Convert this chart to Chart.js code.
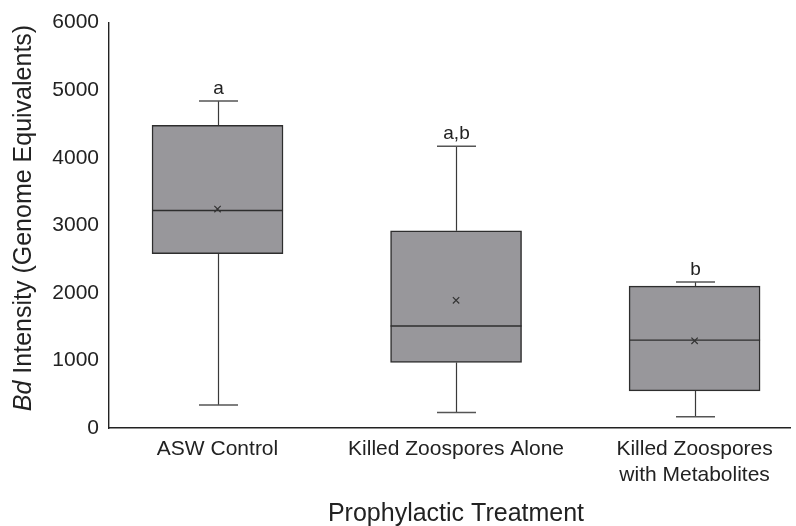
<!DOCTYPE html>
<html>
<head>
<meta charset="utf-8">
<script src="https://cdn.jsdelivr.net/npm/chart.js@4.4.1/dist/chart.umd.min.js"></script>
<style>
  body { margin: 0; background: #fff; }
  #wrap { width: 796px; height: 526px; }
</style>
</head>
<body>
<div id="wrap"><canvas id="myChart" width="796" height="526"></canvas></div>
<script>
// categorias e valores
const categories = ['ASW Control', 'Killed Zoospores Alone', ['Killed Zoospores', 'with Metabolites']];
const positions = [1, 2, 3];
const minVals = [340, 230, 165];
const q1Vals = [2580, 970, 550];
const medianVals = [3220, 1510, 1300];
const q3Vals = [4480, 2920, 2100];
const maxVals = [4840, 4170, 2160];
const meanVals = [3240, 1890, 1290];
const letters = ['a', 'a,b', 'b'];
const yTicks = [0, 1000, 2000, 3000, 4000, 5000, 6000];

const FONT = '"Liberation Sans", Arial, Helvetica, sans-serif';
const TEXT = '#222';

// desenha bigodes, medianas, letras e titulos dos eixos
const boxExtras = {
    id: 'boxExtras',
    afterDatasetDraw(chart, args) {
        if (args.index !== 0) return;
        const ctx = chart.ctx;
        const xs = chart.scales.x, ys = chart.scales.y;
        const half = 65.5;
        ctx.save();
        positions.forEach((p, i) => {
            const cx = xs.getPixelForValue(p);
            const yMed = ys.getPixelForValue(medianVals[i]);
            ctx.strokeStyle = '#2e2e2e';
            ctx.lineWidth = 1.4;
            ctx.beginPath();
            ctx.moveTo(cx - half, yMed);
            ctx.lineTo(cx + half, yMed);
            ctx.stroke();
        });
        ctx.restore();
    },
    beforeDatasetsDraw(chart) {
        const ctx = chart.ctx;
        const xs = chart.scales.x, ys = chart.scales.y;
        const cap = 19.5;
        ctx.save();
        positions.forEach((p, i) => {
            const cx = Math.round(xs.getPixelForValue(p)) + 0.5;
            const yMax = ys.getPixelForValue(maxVals[i]);
            const yMin = ys.getPixelForValue(minVals[i]);
            const yQ1 = ys.getPixelForValue(q1Vals[i]);
            const yQ3 = ys.getPixelForValue(q3Vals[i]);
            // linhas verticais
            ctx.strokeStyle = '#3a3a3a';
            ctx.lineWidth = 1.2;
            ctx.beginPath();
            ctx.moveTo(cx, yQ3); ctx.lineTo(cx, yMax);
            ctx.moveTo(cx, yQ1); ctx.lineTo(cx, yMin);
            ctx.stroke();
            // tracos horizontais
            ctx.strokeStyle = '#555';
            ctx.lineWidth = 1.5;
            ctx.beginPath();
            ctx.moveTo(cx - cap, yMax); ctx.lineTo(cx + cap, yMax);
            ctx.moveTo(cx - cap, yMin); ctx.lineTo(cx + cap, yMin);
            ctx.stroke();
            // letras
            ctx.fillStyle = TEXT;
            ctx.font = '19px ' + FONT;
            ctx.textAlign = 'center';
            ctx.textBaseline = 'alphabetic';
            ctx.fillText(letters[i], cx, yMax - 7);
        });
        ctx.restore();
    },
    afterDraw(chart) {
        const ctx = chart.ctx;
        ctx.save();
        ctx.fillStyle = TEXT;
        // titulo eixo x
        ctx.font = '25px ' + FONT;
        ctx.textAlign = 'center';
        ctx.textBaseline = 'middle';
        ctx.fillText('Prophylactic Treatment', 456, 514);
        // titulo eixo y (Bd em italico)
        ctx.translate(24, 218);
        ctx.rotate(-Math.PI / 2);
        const it = 'italic 25px ' + FONT, nm = '25px ' + FONT;
        ctx.font = it;
        const w1 = ctx.measureText('Bd').width;
        ctx.font = nm;
        const w2 = ctx.measureText(' Intensity (Genome Equivalents)').width;
        let x0 = -(w1 + w2) / 2;
        ctx.textAlign = 'left';
        ctx.font = it;
        ctx.fillText('Bd', x0, 0);
        ctx.font = nm;
        ctx.fillText(' Intensity (Genome Equivalents)', x0 + w1, 0);
        ctx.restore();
    }
};

const ctx = document.getElementById('myChart').getContext('2d');
new Chart(ctx, {
    data: {
        datasets: [{
            type: 'bar',
            order: 2,
            data: positions.map((p, i) => ({ x: p, y: [q1Vals[i], q3Vals[i]] })),
            backgroundColor: '#98979b',
            borderColor: '#2e2e2e',
            borderWidth: 1.5,
            borderSkipped: false,
            barThickness: 131
        }, {
            type: 'scatter',
            order: 1,
            data: positions.map((p, i) => ({ x: p, y: meanVals[i] })),
            pointStyle: 'crossRot',
            pointRadius: 4.5,
            borderColor: '#333',
            borderWidth: 1.2
        }]
    },
    options: {
        responsive: false,
        animation: false,
        layout: { padding: { top: 19, right: 6, left: 0, bottom: 0 } },
        plugins: { legend: { display: false }, tooltip: { enabled: false } },
        scales: {
            x: {
                type: 'linear',
                offset: false,
                min: 0.545,
                max: 3.4,
                afterBuildTicks: s => { s.ticks = positions.map(v => ({ value: v })); },
                afterFit: s => { s.height = 98; },
                ticks: {
                    callback: v => categories[v - 1],
                    font: { size: 21, family: FONT },
                    color: TEXT,
                    padding: 9,
                    maxRotation: 0,
                    autoSkip: false
                },
                grid: { display: false, drawTicks: false, offset: false },
                border: { display: true, color: '#222', width: 1.4 }
            },
            y: {
                min: 0,
                max: 6000,
                afterBuildTicks: s => { s.ticks = yTicks.map(v => ({ value: v })); },
                afterFit: s => { s.width = 109; },
                ticks: {
                    callback: v => String(v),
                    font: { size: 21, family: FONT },
                    color: TEXT,
                    padding: 10
                },
                grid: { display: false, drawTicks: false },
                border: { display: true, color: '#222', width: 1.4 }
            }
        }
    },
    plugins: [boxExtras]
});
</script>
</body>
</html>
